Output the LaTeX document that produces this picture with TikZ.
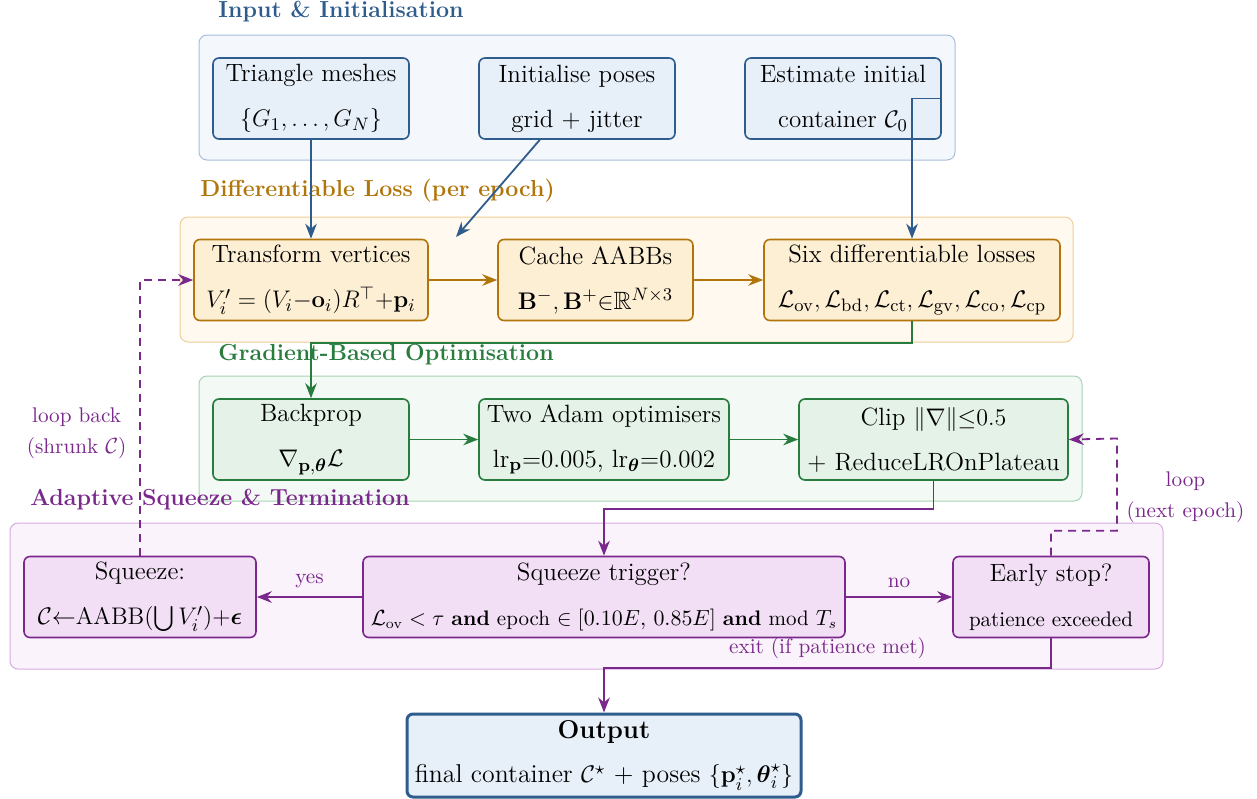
\documentclass[tikz,border=0pt]{standalone}
\usepackage{amsmath,amssymb}
\usepackage{xcolor}
\usepackage{tikz}
\usetikzlibrary{arrows.meta,positioning}
\definecolor{inblue}{RGB}{46,92,140}
\definecolor{inbluefill}{RGB}{231,239,249}
\definecolor{inbluebg}{RGB}{244,248,252}
\definecolor{inblueline}{RGB}{168,190,216}
\definecolor{lossbrown}{RGB}{176,118,12}
\definecolor{lossfill}{RGB}{253,239,212}
\definecolor{lossbg}{RGB}{255,249,240}
\definecolor{lossline}{RGB}{236,206,150}
\definecolor{gradgreen}{RGB}{40,125,62}
\definecolor{gradfill}{RGB}{228,242,231}
\definecolor{gradbg}{RGB}{243,249,244}
\definecolor{gradline}{RGB}{170,210,180}
\definecolor{sqpurple}{RGB}{122,40,140}
\definecolor{sqfill}{RGB}{242,222,245}
\definecolor{sqbg}{RGB}{251,243,251}
\definecolor{sqline}{RGB}{212,172,222}
\newcommand{\Lo}[1]{\mathcal{L}_{\mathrm{#1}}}

\begin{document}
\begin{tikzpicture}[x=0.5pt,y=-0.5pt,>={Stealth[length=7.5pt,width=5.8pt]},
  box/.style={draw,rounded corners=3pt,line width=0.8pt,align=center,inner sep=2pt,
    minimum height=40.5pt,font=\fontsize{12.5}{14.5}\selectfont},
  inbox/.style={box,draw=inblue,fill=inbluefill},
  lossbox/.style={box,draw=lossbrown,fill=lossfill},
  gradbox/.style={box,draw=gradgreen,fill=gradfill},
  sqbox/.style={box,draw=sqpurple,fill=sqfill},
  grp/.style={rounded corners=4pt,line width=0.5pt},
  gtitle/.style={anchor=west,inner sep=0pt,font=\bfseries\fontsize{11.6}{13}\selectfont},
  lbl/.style={text=sqpurple,align=center,font=\fontsize{10.6}{15.5}\selectfont},
  conn/.style={->,line width=0.9pt},
  loopdash/.style={conn,draw=sqpurple,dash pattern=on 4pt off 3pt}]
  \useasboundingbox (0,0) rectangle (1257,798);
  \def\sml{\fontsize{10.5}{12}\selectfont}

  % stage backgrounds
  \draw[grp,draw=inblueline,fill=inbluebg] (199,35) rectangle (955,160);
  \draw[grp,draw=lossline,fill=lossbg] (180,217) rectangle (1073,342);
  \draw[grp,draw=gradline,fill=gradbg] (199,376) rectangle (1082,501);
  \draw[grp,draw=sqline,fill=sqbg] (10,523) rectangle (1163,669);
  \node[gtitle,text=inblue] (tin) at (218,12) {Input \& Initialisation};
  \node[gtitle,text=lossbrown] (tloss) at (200,191) {Differentiable Loss (per epoch)};
  \node[gtitle,text=gradgreen] (tgrad) at (218,355) {Gradient-Based Optimisation};
  \node[gtitle,text=sqpurple] (tsq) at (30,500) {Adaptive Squeeze \& Termination};

  % input
  \node[inbox,minimum width=98pt] (mesh) at (311,98.5) {Triangle meshes\\[8pt]$\{G_1,\dots,G_N\}$};
  \node[inbox,minimum width=98pt] (poses) at (577,98.5) {Initialise poses\\[8pt]grid + jitter};
  \node[inbox,minimum width=98pt] (est) at (843,98.5) {Estimate initial\\[8pt]container $\mathcal{C}_0$};

  % loss
  \node[lossbox,minimum width=117pt] (trans) at (311,280) {Transform vertices\\[8pt]$V_i'=(V_i{-}\mathbf{o}_i)R^{\top}{+}\mathbf{p}_i$};
  \node[lossbox,minimum width=97.5pt] (cache) at (595.5,280) {Cache AABBs\\[8pt]$\mathbf{B}^{-},\mathbf{B}^{+}{\in}\mathbb{R}^{N\times 3}$};
  \node[lossbox,minimum width=148pt] (six) at (912,280) {Six differentiable losses\\[8pt]$\Lo{ov},\Lo{bd},\Lo{ct},\Lo{gv},\Lo{co},\Lo{cp}$};

  % optimisation
  \node[gradbox,minimum width=98pt] (back) at (311,439.5) {Backprop\\[8pt]$\nabla_{\mathbf{p},\boldsymbol{\theta}}\mathcal{L}$};
  \node[gradbox,minimum width=125pt] (adam) at (604,439.5) {Two Adam optimisers\\[8pt]lr$_{\mathbf{p}}$=0.005, lr$_{\boldsymbol{\theta}}$=0.002};
  \node[gradbox,minimum width=134.5pt] (clip) at (933.5,439.5) {Clip $\|\nabla\|{\le}0.5$\\[8pt]+ ReduceLROnPlateau};

  % squeeze
  \node[sqbox,minimum width=116pt] (sq) at (140,597) {Squeeze:\\[8pt]$\mathcal{C}{\leftarrow}\mathrm{AABB}(\bigcup V_i'){+}\boldsymbol{\epsilon}$};
  \node[sqbox,minimum width=241pt] (trig) at (604,597) {Squeeze trigger?\\[8pt]{\sml $\Lo{ov}<\tau$ \textbf{and} epoch $\in[0.10E,\,0.85E]$ \textbf{and} mod $T_s$}};
  \node[sqbox,minimum width=98pt] (early) at (1051,597) {Early stop?\\[8pt]{\sml patience exceeded}};

  \node[box,draw=inblue,fill=inbluefill,line width=1.5pt,minimum width=197pt,minimum height=41.5pt,
    font=\fontsize{12.9}{14.5}\selectfont] (out) at (604,755.5)
    {\textbf{Output}\\[7.5pt]final container $\mathcal{C}^{\star}$ + poses $\{\mathbf{p}_i^{\star},\boldsymbol{\theta}_i^{\star}\}$};

  \coordinate (poseEnd) at (456,237);
  \coordinate (loopR) at (1117,438.5);

  % connectors
  \draw[conn,inblue] (mesh) -- (trans);
  \draw[conn,inblue] (poses.228) -- (poseEnd);
  \draw[conn,inblue] (est.east) -| (six.north);
  \draw[conn,lossbrown] (trans) -- (cache);
  \draw[conn,lossbrown] (cache) -- (six);
  \draw[conn,gradgreen] (six.south) -- ++(0,22) -| (back.north);
  \draw[conn,gradgreen] (back) -- (adam);
  \draw[conn,gradgreen] (adam) -- (clip);
  \draw[conn,sqpurple] (clip.south) -- ++(0,28) -| (trig.north);
  \draw[conn,sqpurple] (trig) -- node[lbl,above=1pt] (yes) {yes} (sq);
  \draw[conn,sqpurple] (trig) -- node[lbl,above=1pt] (no) {no} (early);
  \draw[conn,sqpurple] (early.south) -- ++(0,30) -| node[lbl,pos=0.25,above=1pt] (exit) {exit (if patience met)} (out.north);
  \draw[loopdash] (sq.north) |- node[lbl,pos=0.222,left=3pt] (lback) {loop back\\(shrunk $\mathcal{C}$)} (trans.west);
  \draw[loopdash] (early.north) -- ++(0,-25) -| node[lbl,pos=0.68,right=1pt] (lnext) {loop\\(next epoch)} (loopR) -- (clip.east);
\end{tikzpicture}
\end{document}
